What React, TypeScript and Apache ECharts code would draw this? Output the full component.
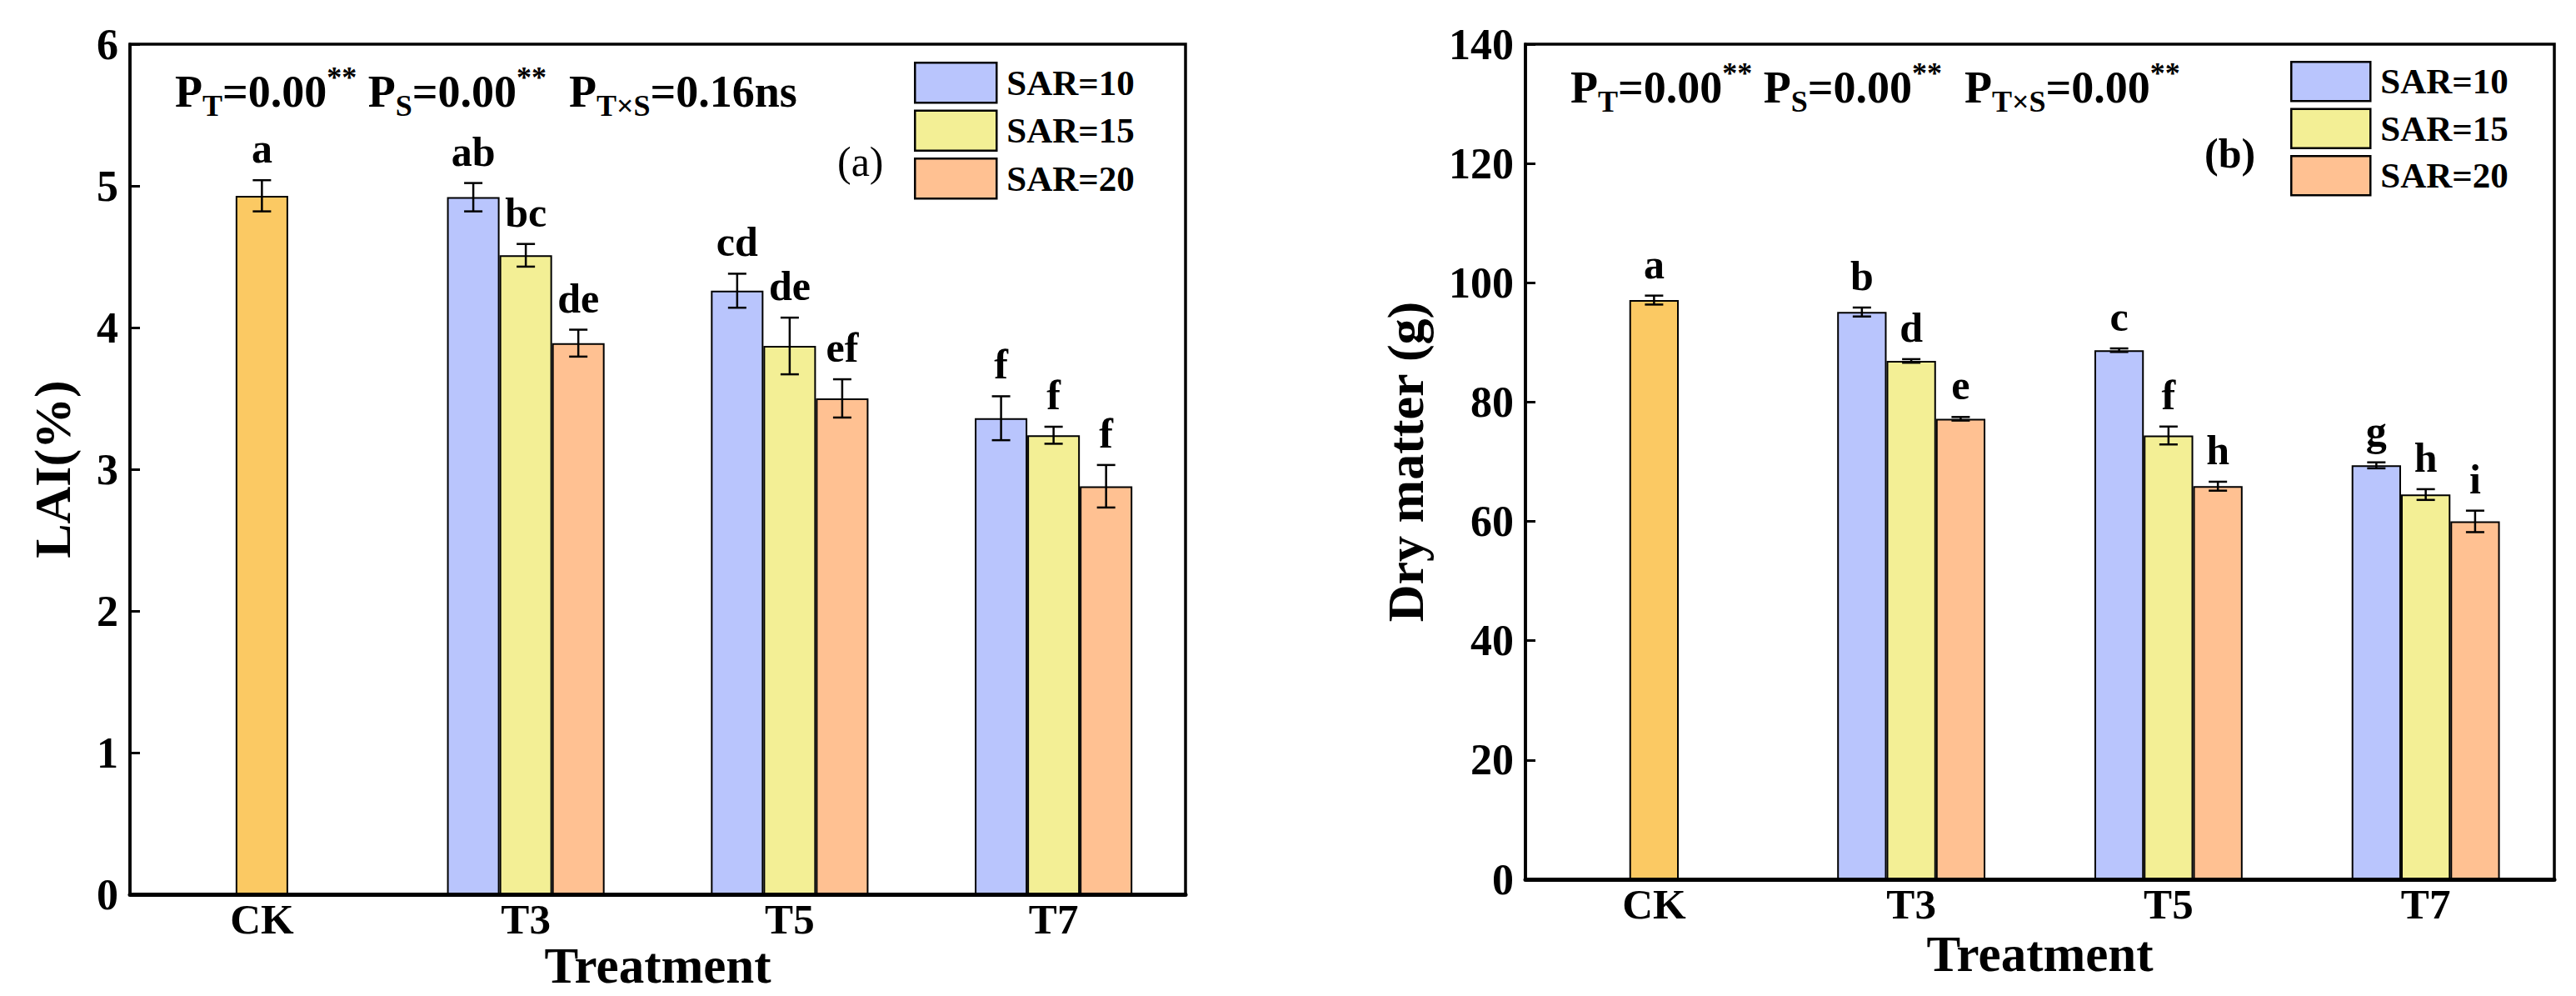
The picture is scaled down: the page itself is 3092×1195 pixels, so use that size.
import * as echarts from "echarts";
import { useEffect, useRef } from "react";

const categories = ["CK", "T3", "T5", "T7"];
const seriesNames = ["SAR=10", "SAR=15", "SAR=20"];

// (a) LAI — CK first, then T3, T5, T7 per SAR level
const laiCK = 4.93;
const laiCKErr = 0.11;
const laiCKLetter = "a";
const lai10 = [4.92, 4.26, 3.36];
const lai15 = [4.51, 3.87, 3.24];
const lai20 = [3.89, 3.5, 2.88];
const lai10Err = [0.1, 0.12, 0.155];
const lai15Err = [0.08, 0.2, 0.06];
const lai20Err = [0.095, 0.135, 0.15];
const lai10Letters = ["ab", "cd", "f"];
const lai15Letters = ["bc", "de", "f"];
const lai20Letters = ["de", "ef", "f"];

// (b) Dry matter (g)
const dmCK = 97.1;
const dmCKErr = 0.75;
const dmCKLetter = "a";
const dm10 = [95.1, 88.7, 69.4];
const dm15 = [86.9, 74.4, 64.5];
const dm20 = [77.2, 65.9, 60.0];
const dm10Err = [0.75, 0.3, 0.5];
const dm15Err = [0.3, 1.5, 0.9];
const dm20Err = [0.3, 0.75, 1.8];
const dm10Letters = ["b", "c", "g"];
const dm15Letters = ["d", "f", "h"];
const dm20Letters = ["e", "h", "i"];

const ckColor = "#FBC963";
const sarColors = ["#B9C5FD", "#F3EF95", "#FFC192"];
const FONT = '"Liberation Serif", "Times New Roman", serif';

interface Panel {
  ck: number;
  ckErr: number;
  ckLetter: string;
  values: number[][];
  errors: number[][];
  letters: string[][];
  barRatio: number;
}

interface ErrPoint {
  cat: number;
  value: number;
  err: number;
  slot: number;
  letter: string;
}

const panels: Panel[] = [
  {
    ck: laiCK,
    ckErr: laiCKErr,
    ckLetter: laiCKLetter,
    values: [lai10, lai15, lai20],
    errors: [lai10Err, lai15Err, lai20Err],
    letters: [lai10Letters, lai15Letters, lai20Letters],
    barRatio: 0.199
  },
  {
    ck: dmCK,
    ckErr: dmCKErr,
    ckLetter: dmCKLetter,
    values: [dm10, dm15, dm20],
    errors: [dm10Err, dm15Err, dm20Err],
    letters: [dm10Letters, dm15Letters, dm20Letters],
    barRatio: 0.192
  }
];

export default function App() {
  const elementRef = useRef<HTMLDivElement | null>(null);

  useEffect(() => {
    if (!elementRef.current) {
      return;
    }
    const chart = echarts.init(elementRef.current, undefined, { renderer: "svg" });
    chart.setOption(buildOption());
    return () => {
      chart.dispose();
    };
  }, []);

  return (
    <div
      ref={elementRef}
      style={{ position: "absolute", left: 0, top: 0, width: 3092, height: 1195, background: "#fff" }}
    />
  );
}

function errPoints(panel: Panel): ErrPoint[] {
  const points: ErrPoint[] = [{ cat: 0, value: panel.ck, err: panel.ckErr, slot: 0, letter: panel.ckLetter }];
  panel.values.forEach((list, s) => {
    list.forEach((value, i) => {
      points.push({ cat: i + 1, value, err: panel.errors[s][i], slot: s - 1, letter: panel.letters[s][i] });
    });
  });
  return points;
}

function panelSeries(panel: Panel, index: number) {
  const bars = seriesNames.map((name, s) => ({
    type: "bar" as const,
    name,
    xAxisIndex: index,
    yAxisIndex: index,
    barWidth: `${panel.barRatio * 100}%`,
    barGap: "0%",
    itemStyle: { color: sarColors[s], borderColor: "#000", borderWidth: 2 },
    data: [
      s === 1 ? { value: panel.ck, itemStyle: { color: ckColor } } : "-",
      ...panel.values[s]
    ]
  }));
  const points = errPoints(panel);
  const errorBars = {
    type: "custom" as const,
    xAxisIndex: index,
    yAxisIndex: index,
    z: 5,
    silent: true,
    data: points.map((p) => [p.cat, p.value, p.err, p.slot]),
    renderItem: (params: any, api: any) => {
      const cat = api.value(0);
      const value = api.value(1);
      const err = api.value(2);
      const slot = api.value(3);
      const barW = api.size([1, 0])[0] * panel.barRatio;
      const x = api.coord([cat, value])[0] + slot * barW;
      const yTop = api.coord([cat, value + err])[1];
      const yBot = api.coord([cat, value - err])[1];
      const cap = 11;
      const line = { stroke: "#000", lineWidth: 2.5 };
      return {
        type: "group",
        children: [
          { type: "line", shape: { x1: x, y1: yTop, x2: x, y2: yBot }, style: line },
          { type: "line", shape: { x1: x - cap, y1: yTop, x2: x + cap, y2: yTop }, style: line },
          { type: "line", shape: { x1: x - cap, y1: yBot, x2: x + cap, y2: yBot }, style: line },
          {
            type: "text",
            x,
            y: yTop - 13,
            style: {
              text: points[params.dataIndex].letter,
              fill: "#000",
              fontSize: 50,
              fontWeight: "bold",
              fontFamily: FONT,
              align: "center",
              verticalAlign: "bottom",
              textAlign: "center",
              textVerticalAlign: "bottom"
            }
          }
        ]
      };
    }
  };
  return [...bars, errorBars];
}

function pText(interaction: string, mark: string) {
  const tail = mark ? `{p|${mark}}` : "";
  return `{m|P}{s|T}{m|=0.00}{p|**} {m|P}{s|S}{m|=0.00}{p|**}  {m|P}{s|T×S}{m|=${interaction}}${tail}`;
}

const pRich = {
  m: { fontSize: 54, fontWeight: "bold", fontFamily: FONT, lineHeight: 70, fill: "#000" },
  s: { fontSize: 36, fontWeight: "bold", fontFamily: FONT, lineHeight: 32, verticalAlign: "bottom", fill: "#000" },
  p: { fontSize: 36, fontWeight: "bold", fontFamily: FONT, lineHeight: 36, verticalAlign: "top", fill: "#000" }
};

function buildOption(): any {
  const grids = [
    { left: 156, top: 53, width: 1267, height: 1020 },
    { left: 1831, top: 53, width: 1235, height: 1002 }
  ];
  const yConfig = [
    { max: 6, interval: 1, name: "LAI(%)", nameGap: 62 },
    { max: 140, interval: 20, name: "Dry matter (g)", nameGap: 113 }
  ];
  const legendPos = [
    { left: 1097, top: 74, itemWidth: 98, itemHeight: 48 },
    { left: 2749, top: 73, itemWidth: 95, itemHeight: 47 }
  ];

  return {
    animation: false,
    backgroundColor: "#fff",
    grid: grids.map((g) => ({
      ...g,
      show: true,
      borderColor: "#000",
      borderWidth: 3.5,
      backgroundColor: "transparent",
      outerBoundsMode: "none"
    })),
    legend: legendPos.map((l) => ({
      ...l,
      orient: "vertical",
      padding: 0,
      itemGap: 7,
      icon: "rect",
      data: seriesNames,
      selectedMode: false,
      itemStyle: { borderColor: "#000", borderWidth: 2.5 },
      textStyle: {
        fontSize: 43,
        fontWeight: "bold",
        fontFamily: FONT,
        color: "#000",
        lineHeight: 48,
        padding: [0, 0, 0, 7]
      }
    })),
    xAxis: grids.map((_, i) => ({
      type: "category",
      gridIndex: i,
      data: categories,
      name: "Treatment",
      nameLocation: "middle",
      nameGap: i === 0 ? 56 : 60,
      nameMoveOverlap: false,
      nameTextStyle: { fontSize: 61, fontWeight: "bold", fontFamily: FONT, color: "#000", lineHeight: 58 },
      axisLine: { show: true, lineStyle: { color: "#000", width: 5 } },
      axisTick: { show: true, inside: true, alignWithLabel: true, length: 10, lineStyle: { color: "#000", width: 3 } },
      axisLabel: { fontSize: 51, fontWeight: "bold", fontFamily: FONT, color: "#000", margin: 4 },
      splitLine: { show: false }
    })),
    yAxis: yConfig.map((y, i) => ({
      type: "value",
      gridIndex: i,
      min: 0,
      max: y.max,
      interval: y.interval,
      name: y.name,
      nameLocation: "middle",
      nameGap: y.nameGap,
      nameMoveOverlap: false,
      nameTextStyle: { fontSize: 62, fontWeight: "bold", fontFamily: FONT, color: "#000" },
      axisLine: { show: true, lineStyle: { color: "#000", width: 3.5 } },
      axisTick: { show: true, inside: true, length: 12, lineStyle: { color: "#000", width: 3 } },
      axisLabel: { fontSize: 52, fontWeight: "bold", fontFamily: FONT, color: "#000", margin: 14 },
      splitLine: { show: false }
    })),
    graphic: [
      {
        type: "text",
        x: 210,
        y: 75,
        style: { text: pText("0.16ns", ""), rich: pRich, font: `bold 54px ${FONT}`, fill: "#000", verticalAlign: "top", textVerticalAlign: "top" }
      },
      {
        type: "text",
        x: 1885,
        y: 70,
        style: { text: pText("0.00", "**"), rich: pRich, font: `bold 54px ${FONT}`, fill: "#000", verticalAlign: "top", textVerticalAlign: "top" }
      },
      {
        type: "text",
        x: 1005,
        y: 194,
        style: { text: "(a)", font: `50px ${FONT}`, fill: "#000", verticalAlign: "middle", textVerticalAlign: "middle" }
      },
      {
        type: "text",
        x: 2646,
        y: 184,
        style: { text: "(b)", font: `bold 50px ${FONT}`, fill: "#000", verticalAlign: "middle", textVerticalAlign: "middle" }
      }
    ],
    series: [...panelSeries(panels[0], 0), ...panelSeries(panels[1], 1)]
  };
}
